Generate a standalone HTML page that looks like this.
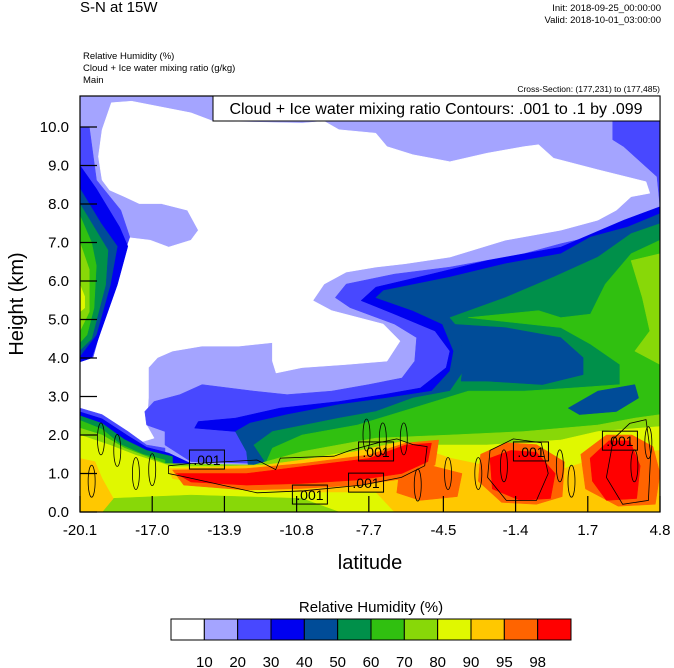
<!DOCTYPE html>
<html><head><meta charset="utf-8"><style>
html,body{margin:0;padding:0;background:#fff;}
svg{display:block;font-family:"Liberation Sans",sans-serif;}
</style></head><body>
<svg id="chart" width="674" height="668" viewBox="0 0 674 668">
<defs><clipPath id="plotclip"><rect x="80" y="96" width="580" height="416"/></clipPath></defs>
<text x="80" y="12" font-size="15">S-N at 15W</text>
<text x="661" y="11" font-size="9.5" text-anchor="end">Init: 2018-09-25_00:00:00</text>
<text x="661" y="23" font-size="9.5" text-anchor="end">Valid: 2018-10-01_03:00:00</text>
<text x="83" y="59" font-size="9.5">Relative Humidity   (%)</text>
<text x="83" y="71" font-size="9.5">Cloud + Ice water mixing ratio   (g/kg)</text>
<text x="83" y="83" font-size="9.5">Main</text>
<text x="660" y="92" font-size="8.5" text-anchor="end">Cross-Section: (177,231) to (177,485)</text>
<g id="plot" clip-path="url(#plotclip)"></g>
<g id="contours" clip-path="url(#plotclip)"></g>
<rect x="80" y="96" width="580" height="416" fill="none" stroke="#000" stroke-width="1.2"/>
<g id="axes"></g>
<rect x="213" y="96" width="447" height="25" fill="#fff" stroke="#000" stroke-width="1"/>
<text x="436" y="114" font-size="16" text-anchor="middle">Cloud + Ice water mixing ratio Contours: .001 to .1 by .099</text>
<text x="370" y="569" font-size="20" text-anchor="middle">latitude</text>
<text transform="translate(23,304) rotate(-90)" font-size="20" text-anchor="middle">Height (km)</text>
<text x="371" y="612" font-size="15" text-anchor="middle">Relative Humidity  (%)</text>
<g id="colorbar"></g>
</svg>
<script>
const levelColors = ["#ffffff","#a4a4ff","#4848ff","#0000f0","#004c98","#00904a","#30c010","#88d808","#e0f800","#ffc800","#ff6400","#ff0000"];
const levelLabels = ["10","20","30","40","50","60","70","80","90","95","98"];
const xTickLabels = ["-20.1","-17.0","-13.9","-10.8","-7.7","-4.5","-1.4","1.7","4.8"];
const xTickValues = [-20.1,-17.0,-13.9,-10.8,-7.7,-4.5,-1.4,1.7,4.8];
const yTickValues = [0,1,2,3,4,5,6,7,8,9,10];
const rWhite = [[-18.75,10.63],[-17.88,10.67],[-15.34,10.37],[-14.38,10.15],[-10.57,10.10],[-9.62,10.15],[-8.98,9.93],[-7.40,9.84],[-6.92,9.49],[-5.81,9.28],[-4.22,9.10],[-2.63,9.32],[-1.04,9.49],[-0.41,9.54],[0.23,9.19],[2.13,8.89],[4.20,8.58],[4.36,8.28],[3.56,8.19],[2.93,7.84],[2.13,7.58],[0.54,7.32],[-1.84,7.06],[-4.22,6.62],[-6.13,6.45],[-7.40,6.36],[-8.67,6.23],[-9.62,5.92],[-10.10,5.49],[-9.30,5.23],[-7.08,4.88],[-6.36,4.44],[-6.92,3.92],[-8.67,3.83],[-10.57,3.75],[-11.68,3.61],[-11.84,3.92],[-11.84,4.40],[-13.27,4.31],[-14.86,4.31],[-16.13,4.18],[-16.77,4.01],[-17.16,3.75],[-17.16,2.96],[-17.24,2.26],[-16.92,1.92],[-17.40,1.83],[-18.51,2.26],[-19.62,2.44],[-20.1,2.53],[-20.1,4.01],[-19.78,4.09],[-19.46,4.70],[-19.15,5.92],[-18.83,6.88],[-18.19,7.14],[-17.08,7.06],[-16.29,6.88],[-15.34,7.06],[-15.02,7.32],[-15.49,7.84],[-16.61,8.01],[-17.56,8.01],[-18.19,8.19],[-18.83,8.36],[-19.15,8.62],[-19.31,9.23],[-19.15,9.93]];
const rR30 = [[4.8,10.15],[2.77,10.15],[2.77,9.67],[3.24,9.49],[4.67,8.71],[4.8,7.93],[3.08,7.32],[0.54,6.97],[-1.04,6.71],[-4.22,6.36],[-6.60,6.18],[-8.67,5.92],[-9.14,5.57],[-8.51,5.31],[-6.60,4.88],[-5.65,4.53],[-5.73,3.92],[-6.28,3.48],[-7.71,3.31],[-9.30,3.14],[-11.21,3.05],[-12.64,3.14],[-14.86,3.31],[-15.81,3.05],[-16.92,2.87],[-17.32,2.61],[-17.24,2.26],[-16.45,2.09],[-16.45,1.74],[-15.34,1.31],[-12.48,1.26],[-12.48,0],[4.8,0]];
const rL30 = [[-20.1,10.0],[-19.70,10.0],[-19.39,8.62],[-18.35,7.84],[-17.96,7.14],[-18.67,5.92],[-19.23,4.70],[-19.54,4.01],[-20.1,3.92]];
const rL40 = [[-20.1,9.0],[-19.4,8.4],[-18.4,7.4],[-18.05,6.9],[-18.5,5.9],[-19.2,4.7],[-19.6,4.0],[-20.1,3.9]];
const rL50 = [[-20.1,8.4],[-19.2,7.5],[-18.5,6.9],[-18.8,5.9],[-19.4,4.6],[-20.1,4.05]];
const rL60 = [[-20.1,8.0],[-19.5,7.4],[-18.9,6.8],[-19.0,5.9],[-19.6,4.5],[-20.1,4.2]];
const rL70 = [[-20.1,7.7],[-19.6,7.0],[-19.4,6.4],[-19.5,5.3],[-19.8,4.6],[-20.1,4.4]];
const rL80 = [[-20.1,7.0],[-19.7,6.3],[-19.7,5.2],[-20.1,4.7]];
const rL90 = [[-20.1,5.9],[-19.9,5.6],[-19.9,5.3],[-20.1,5.2]];
const rLB30 = [[-20.1,2.70],[-19.15,2.53],[-18.04,2.09],[-17.24,1.74],[-16.45,1.66],[-16.45,0],[-20.1,0]];
const rLB40 = [[-20.1,2.60],[-19.15,2.42],[-18.04,1.98],[-17.24,1.68],[-16.29,1.53],[-15.34,1.26],[-15.34,0],[-20.1,0]];
const rLB60 = [[-20.1,2.50],[-19.15,2.30],[-18.19,1.88],[-17.24,1.60],[-16.13,1.44],[-16.13,0],[-20.1,0]];
const rLB70 = [[-20.1,2.38],[-19.15,2.15],[-18.35,1.75],[-17.40,1.50],[-16.45,1.35],[-16.45,0],[-20.1,0]];
const r40 = [[4.8,7.93],[3.24,7.58],[0.54,6.88],[-2.63,6.53],[-5.01,6.18],[-7.40,5.84],[-8.03,5.49],[-6.60,5.14],[-4.86,4.70],[-4.22,4.18],[-4.38,3.75],[-5.49,3.22],[-7.08,3.05],[-8.98,2.87],[-11.52,2.70],[-13.43,2.44],[-15.02,2.35],[-15.18,2.18],[-13.43,2.09],[-12.48,1.48],[-12.32,0],[4.8,0]];
const r50 = [[4.8,7.75],[3.40,7.40],[1.81,7.14],[0.54,6.71],[-1.84,6.45],[-4.22,6.10],[-7.08,5.75],[-7.40,5.57],[-5.81,5.23],[-4.54,4.88],[-4.06,4.18],[-4.22,3.66],[-5.01,3.14],[-6.92,2.96],[-8.98,2.79],[-11.21,2.53],[-12.80,2.31],[-13.43,2.09],[-12.95,1.57],[-12.64,0],[4.8,0]];
const r60 = [[4.8,7.49],[3.56,7.23],[2.13,6.62],[0.23,6.10],[-1.84,5.57],[-4.22,5.05],[-3.74,4.70],[-3.43,3.83],[-4.22,3.14],[-5.81,2.96],[-7.40,2.61],[-8.98,2.44],[-11.84,2.09],[-12.64,1.74],[-12.16,1.31],[-11.52,0],[4.8,0]];
const r50mid = [[-4.22,4.88],[-1.84,4.79],[0.54,4.53],[1.50,4.01],[1.50,3.57],[-0.25,3.31],[-2.63,3.40],[-3.74,3.40],[-3.58,4.18]];
const r70 = [[4.8,7.06],[3.56,6.71],[2.45,5.92],[1.81,5.14],[0.54,5.05],[-0.41,5.23],[-3.43,5.05],[0.54,4.79],[1.81,4.36],[3.08,3.83],[3.08,3.31],[1.02,3.22],[-1.04,3.14],[-3.43,3.14],[-5.81,2.70],[-8.19,2.26],[-10.57,2.00],[-11.84,1.66],[-12.16,1.22],[-12.16,0],[4.8,0]];
const r50right = [[0.86,2.70],[2.13,3.14],[3.72,3.31],[3.88,2.96],[2.93,2.61],[1.34,2.53]];
const r80right = [[4.8,6.71],[3.56,6.53],[4.04,5.57],[4.36,4.70],[3.72,4.18],[4.8,3.83]];
const r80 = [[-20.1,2.18],[-19.15,2.00],[-18.19,1.66],[-16.45,1.26],[-12.64,1.22],[-10.57,1.57],[-7.40,1.92],[-4.22,2.00],[-1.04,2.09],[2.13,2.26],[3.72,2.44],[4.8,2.53],[4.8,0],[-20.1,0]];
const r90 = [[-20.1,2.00],[-18.83,1.74],[-17.72,1.48],[-16.13,1.18],[-12.16,1.18],[-8.98,1.52],[-5.81,1.74],[-2.63,1.74],[0.54,1.87],[2.13,2.09],[4.8,2.22],[4.8,0],[-20.1,0]];
const r80low = [[-18.83,0.35],[-15.34,0.44],[-10.57,0.35],[-8.98,0],[-19.15,0]];
const r95 = [[-16.29,1.13],[-12.16,1.22],[-8.98,1.48],[-6.28,1.83],[-4.22,1.40],[-2.63,1.20],[0.54,1.10],[2.13,1.40],[4.8,1.60],[4.8,0],[-6.60,0],[-7.40,0.52],[-10.57,0.52],[-13.75,0.61],[-16.13,0.87]];
const r95left = [[-20.1,1.39],[-19.46,1.31],[-19.15,0.87],[-18.67,0.35],[-19.15,0],[-20.1,0]];
const r97 = [[-16.13,1.09],[-12.95,1.13],[-10.57,1.26],[-7.71,1.48],[-6.13,1.79],[-4.70,1.87],[-4.86,1.22],[-6.13,0.87],[-8.19,0.70],[-10.57,0.61],[-12.95,0.57],[-15.65,0.70]];
const r97b = [[-2.9,1.5],[-1.8,1.8],[-0.5,1.75],[0.7,1.3],[0.6,0.4],[-0.5,0.2],[-2.0,0.25],[-3.0,0.8]];
const r97c = [[1.4,1.5],[2.5,2.0],[3.6,2.0],[4.5,1.7],[4.8,1.0],[4.6,0.2],[3.0,0.15],[1.6,0.6]];
const r97d = [[-6.4,1.0],[-5.0,1.2],[-3.7,1.0],[-3.9,0.4],[-5.5,0.3],[-6.5,0.5]];
const r98 = [[-15.97,1.00],[-12.95,1.00],[-10.57,1.18],[-7.71,1.39],[-6.13,1.74],[-5.01,1.79],[-5.17,1.31],[-6.28,1.00],[-8.19,0.83],[-10.57,0.74],[-12.95,0.70],[-15.34,0.78]];
const r98a = [[-2.5,1.4],[-1.6,1.6],[-0.5,1.55],[0.3,1.0],[0.1,0.35],[-1.2,0.3],[-2.4,0.6]];
const r98b = [[1.8,1.4],[2.6,1.85],[3.5,1.85],[3.95,1.2],[3.8,0.35],[2.5,0.3],[1.9,0.8]];
const fillOrder = [[0,rWhite],[2,rR30],[2,rL30],[3,rL40],[4,rL50],[5,rL60],[6,rL70],[7,rL80],[8,rL90],[2,rLB30],[3,rLB40],[5,rLB60],[6,rLB70],[3,r40],[4,r50],[5,r60],[4,r50mid],[6,r70],[4,r50right],[7,r80right],[7,r80],[8,r90],[7,r80low],[9,r95],[9,r95left],[10,r97],[10,r97b],[10,r97c],[10,r97d],[11,r98],[11,r98a],[11,r98b]];
const c1 = [[-16.3,1.2],[-15.5,1.25],[-14.0,1.3],[-12.5,1.35],[-11.7,1.1],[-11.5,1.4],[-9.2,1.45],[-8.5,1.6],[-7.3,1.8],[-6.5,1.9],[-5.8,1.75],[-5.2,1.7],[-5.3,1.2],[-6.3,0.9],[-8.0,0.7],[-10.5,0.55],[-12.5,0.5],[-14.0,0.7],[-15.5,0.9],[-16.3,1.0]];
const c2 = [[-2.5,1.6],[-1.5,1.9],[-0.3,1.8],[0.0,1.0],[-0.5,0.3],[-1.8,0.3],[-2.6,0.9]];
const c3 = [[2.8,1.9],[3.5,2.3],[4.2,2.4],[4.4,1.5],[4.3,0.3],[3.2,0.2],[2.5,0.9]];
const cellCenters = [[-19.2,1.9],[-18.5,1.6],[-17.7,1.0],[-17.0,1.1],[-19.6,0.8],[-7.8,2.0],[-7.1,1.9],[-6.2,1.9],[-4.3,1.0],[-3.0,1.0],[-1.9,1.2],[1.0,0.8],[3.7,1.2],[4.3,1.8],[-5.6,0.7],[0.5,1.2]];
const labelPos = [[-14.65,1.35],[-7.39,1.56],[-0.74,1.56],[3.08,1.84],[-7.82,0.75],[-10.23,0.44]];

const NS="http://www.w3.org/2000/svg";
const xS = lat => 80 + (lat + 20.1) / 24.9 * 580;
const yS = h => 512 - h * 38.5;
const plot = document.getElementById('plot');
const bg = document.createElementNS(NS,'rect');


bg.setAttribute('x',80);bg.setAttribute('y',96);bg.setAttribute('width',580);bg.setAttribute('height',416);bg.setAttribute('fill',levelColors[1]);
plot.appendChild(bg);
const ptsStr = arr => arr.map(p => xS(p[0]).toFixed(1)+','+yS(p[1]).toFixed(1)).join(' ');
fillOrder.forEach((f,i) => {
  const pg = document.createElementNS(NS,'polygon');
  
  
  pg.setAttribute('points', ptsStr(f[1]));
  pg.setAttribute('fill', levelColors[f[0]]);
  pg.setAttribute('stroke', levelColors[f[0]]);
  pg.setAttribute('stroke-width','0.5');
  plot.appendChild(pg);
});
const cg = document.getElementById('contours');
[c1,c2,c3].forEach((c,i) => {
  const pg = document.createElementNS(NS,'polygon');
  
  
  pg.setAttribute('points', ptsStr(c));
  pg.setAttribute('fill','none');pg.setAttribute('stroke','#000');pg.setAttribute('stroke-width','0.8');
  cg.appendChild(pg);
});
cellCenters.forEach((c,i) => {
  const e = document.createElementNS(NS,'ellipse');
  
  
  e.setAttribute('cx', xS(c[0]));e.setAttribute('cy', yS(c[1]));
  e.setAttribute('rx', 3.5);e.setAttribute('ry', 16);
  e.setAttribute('fill','none');e.setAttribute('stroke','#000');e.setAttribute('stroke-width','0.8');
  cg.appendChild(e);
});
labelPos.forEach((l,i) => {
  const x = xS(l[0]), y = yS(l[1]);
  const r = document.createElementNS(NS,'rect');
  
  
  r.setAttribute('x',x-17.5);r.setAttribute('y',y-10);r.setAttribute('width',35);r.setAttribute('height',19);
  r.setAttribute('fill','none');r.setAttribute('stroke','#000');r.setAttribute('stroke-width','1');
  cg.appendChild(r);
  const t = document.createElementNS(NS,'text');
  
  
  t.setAttribute('x',x);t.setAttribute('y',y+5);t.setAttribute('font-size','14');t.setAttribute('text-anchor','middle');
  t.textContent='.001';
  cg.appendChild(t);
});
const ax = document.getElementById('axes');
xTickValues.forEach((v,i) => {
  const x = xS(v);
  const ln = document.createElementNS(NS,'line');
  
  
  ln.setAttribute('x1',x);ln.setAttribute('x2',x);ln.setAttribute('y1',512);ln.setAttribute('y2',496);
  ln.setAttribute('stroke','#000');ln.setAttribute('stroke-width','1.2');
  ax.appendChild(ln);
  const t = document.createElementNS(NS,'text');
  
  
  t.setAttribute('x',x);t.setAttribute('y',535);t.setAttribute('font-size','15');t.setAttribute('text-anchor','middle');
  t.textContent = xTickLabels[i];
  ax.appendChild(t);
});
yTickValues.forEach(v => {
  const y = yS(v);
  const ln = document.createElementNS(NS,'line');
  
  
  ln.setAttribute('x1',80);ln.setAttribute('x2',97);ln.setAttribute('y1',y);ln.setAttribute('y2',y);
  ln.setAttribute('stroke','#000');ln.setAttribute('stroke-width','1.2');
  ax.appendChild(ln);
  const t = document.createElementNS(NS,'text');
  
  
  t.setAttribute('x',69);t.setAttribute('y',y+5);t.setAttribute('font-size','15');t.setAttribute('text-anchor','end');
  t.textContent = v.toFixed(1);
  ax.appendChild(t);
});
const cb = document.getElementById('colorbar');
const cbX = 171, cbW = 400/12;
levelColors.forEach((c,i) => {
  const r = document.createElementNS(NS,'rect');
  
  
  r.setAttribute('x',cbX+i*cbW);r.setAttribute('y',619);r.setAttribute('width',cbW);r.setAttribute('height',21);
  r.setAttribute('fill',c);r.setAttribute('stroke','#000');r.setAttribute('stroke-width','1');
  cb.appendChild(r);
});
levelLabels.forEach((l,i) => {
  const t = document.createElementNS(NS,'text');
  
  
  t.setAttribute('x',cbX+(i+1)*cbW);t.setAttribute('y',667);t.setAttribute('font-size','15');t.setAttribute('text-anchor','middle');
  t.textContent = l;
  cb.appendChild(t);
});
</script>
</body></html>
